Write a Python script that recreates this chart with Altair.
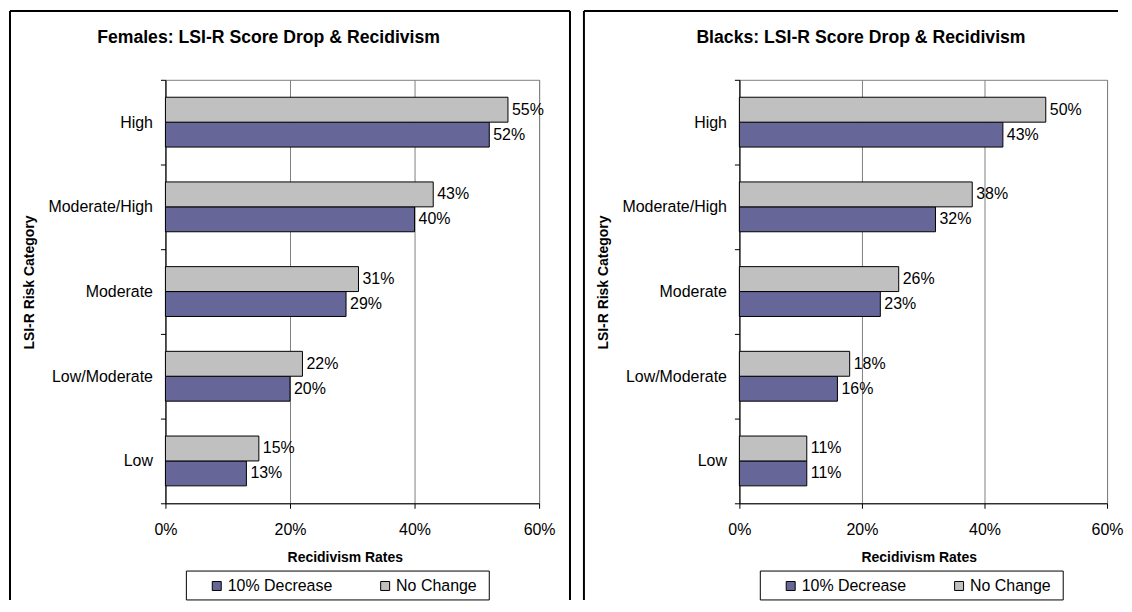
import altair as alt
import pandas as pd

FONT = "Liberation Sans"

categories = ["High", "Moderate/High", "Moderate", "Low/Moderate", "Low"]
series_names = ["10% Decrease", "No Change"]
series_colors = ["#666699", "#C0C0C0"]

females_decrease = [0.52, 0.40, 0.29, 0.20, 0.13]
females_nochange = [0.55, 0.43, 0.31, 0.22, 0.15]
blacks_decrease = [0.43, 0.32, 0.23, 0.16, 0.11]
blacks_nochange = [0.50, 0.38, 0.26, 0.18, 0.11]

x_ticks = [0, 0.2, 0.4, 0.6]

titles = ["Females: LSI-R Score Drop & Recidivism", "Blacks: LSI-R Score Drop & Recidivism"]
x_title = "Recidivism Rates"
y_title = "LSI-R Risk Category"

H = 425
TOP = -69
BOTTOM = 522


def panel(title, dec, nc, title_x, right_border, draw_right, width):
    rows = []
    for c, d, n in zip(categories, dec, nc):
        rows.append({"category": c, "series": series_names[0], "value": d})
        rows.append({"category": c, "series": series_names[1], "value": n})
    df = pd.DataFrame(rows)
    base = alt.Chart(df)

    x = alt.X("value:Q",
              scale=alt.Scale(domain=[0, 0.6], nice=False),
              axis=alt.Axis(values=x_ticks, format=".0%", title=None, grid=True,
                            gridColor="#808080", gridWidth=1, domainColor="black",
                            tickColor="black", tickSize=5, labelPadding=13,
                            labelFlush=False, labelFontSize=16, labelFont=FONT,
                            labelColor="black"))
    y = alt.Y("category:N", sort=categories,
              scale=alt.Scale(paddingInner=0, paddingOuter=0),
              axis=alt.Axis(title=None, tickBand="extent", domainColor="black",
                            tickColor="black", tickSize=5, labelPadding=8,
                            labelFontSize=16, labelFont=FONT, labelColor="black",
                            grid=False))
    yoff = alt.YOffset("series:N", sort=[series_names[1], series_names[0]],
                       scale=alt.Scale(paddingOuter=0.7, paddingInner=0))
    color = alt.Color("series:N",
                      scale=alt.Scale(domain=series_names, range=series_colors),
                      legend=alt.Legend(orient="none", legendX=43.5, legendY=500,
                                        direction="horizontal", title=None,
                                        symbolType="square", symbolSize=81,
                                        symbolStrokeColor="black", symbolStrokeWidth=1,
                                        labelFontSize=16, labelFont=FONT,
                                        labelColor="black", labelOffset=3,
                                        columnPadding=45, padding=0))

    bars = base.mark_bar(stroke="black", strokeWidth=1).encode(x=x, y=y, yOffset=yoff, color=color)
    labels = base.mark_text(align="left", baseline="middle", dx=4, fontSize=16,
                            font=FONT, color="black").encode(
        x=x, y=y, yOffset=yoff, text=alt.Text("value:Q", format=".0%"))

    dummy = alt.Chart(alt.Data(values=[{"a": 1}]))
    bstyle = dict(color="black", strokeWidth=2)
    layers = [
        dummy.mark_rule(**bstyle).encode(x=alt.value(-156), y=alt.value(TOP), y2=alt.value(BOTTOM)),
        dummy.mark_rule(**bstyle).encode(x=alt.value(-156), x2=alt.value(right_border), y=alt.value(TOP)),
    ]
    if draw_right:
        layers.append(dummy.mark_rule(**bstyle).encode(x=alt.value(right_border), y=alt.value(TOP), y2=alt.value(BOTTOM)))
    layers += [
        dummy.mark_text(text=title, fontSize=17.7, fontWeight="bold", font=FONT,
                        align="center", baseline="alphabetic", color="black").encode(
            x=alt.value(title_x), y=alt.value(-37)),
        dummy.mark_text(text=y_title, fontSize=14, fontWeight="bold", font=FONT,
                        align="center", baseline="alphabetic", angle=270, color="black").encode(
            x=alt.value(-132), y=alt.value(203.5)),
        dummy.mark_text(text=x_title, fontSize=14, fontWeight="bold", font=FONT,
                        align="center", baseline="alphabetic", color="black").encode(
            x=alt.value(180.5), y=alt.value(484)),
        dummy.mark_rect(fill="white", stroke="black", strokeWidth=1).encode(
            x=alt.value(21), x2=alt.value(325), y=alt.value(493), y2=alt.value(522)),
        bars,
        labels,
    ]
    return alt.layer(*layers).properties(width=width, height=H)


left = panel(titles[0], females_decrease, females_nochange, 103.5, 406, True, 375)
right = panel(titles[1], blacks_decrease, blacks_nochange, 122, 380, False, 369)

chart = alt.hconcat(left, right, spacing=10).resolve_scale(
    color="independent", x="independent", y="independent"
).resolve_legend(color="independent").properties(
    padding=0, background="white"
).configure_view(stroke="#808080", strokeWidth=1)

chart.save("out.html", embed_options={"renderer": "svg", "actions": False})
